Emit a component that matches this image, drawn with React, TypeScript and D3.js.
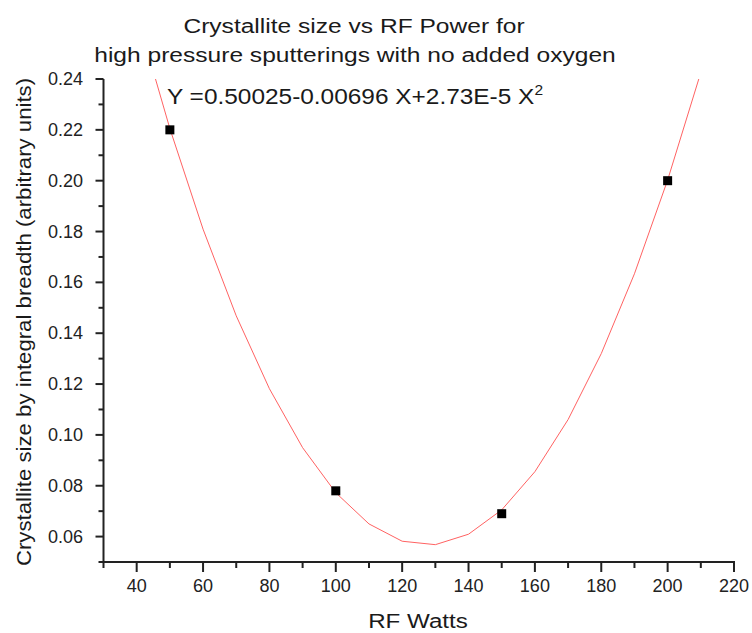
import * as d3 from "d3"
import type { ReactNode } from "react"

// measured points
const watts = [50, 100, 150, 200]
const sizes = [0.22, 0.078, 0.069, 0.2]

// quadratic fit shown on the chart: Y = a + bX + cX^2
const fitCoefs = [0.50025, -0.00696, 2.73e-5]
const fitX = [40, 50, 60, 70, 80, 90, 100, 110, 120, 130, 140, 150, 160, 170, 180, 190, 200, 210]

const xMajor = [40, 60, 80, 100, 120, 140, 160, 180, 200, 220]
const xMinor = [30, 50, 70, 90, 110, 130, 150, 170, 190, 210]
const yMajor = [0.06, 0.08, 0.1, 0.12, 0.14, 0.16, 0.18, 0.2, 0.22, 0.24]
const yMinor = [0.05, 0.07, 0.09, 0.11, 0.13, 0.15, 0.17, 0.19, 0.21, 0.23]

const W = 752
const H = 633
const left = 103.5
const right = 734
const top = 79
const bottom = 562
const font = "Arial, 'Liberation Sans', sans-serif"

// the source image is a bit wider than tall, so text is stretched sideways
function Stretched({
  x,
  y,
  sx = 1,
  rotate = 0,
  size,
  anchor = "start",
  children,
}: {
  x: number
  y: number
  sx?: number
  rotate?: number
  size: number
  anchor?: "start" | "middle" | "end"
  children: ReactNode
}) {
  return (
    <text
      transform={`translate(${x},${y}) rotate(${rotate}) scale(${sx},1)`}
      fontSize={size}
      textAnchor={anchor}
      fill="#1a1a1a"
    >
      {children}
    </text>
  )
}

export default function App() {
  const x = d3.scaleLinear().domain([30, 220]).range([left, right])
  const y = d3.scaleLinear().domain([0.05, 0.24]).range([bottom, top])

  const fit = (v: number) => fitCoefs[0] + fitCoefs[1] * v + fitCoefs[2] * v * v
  const line = d3
    .line<number>()
    .x((d) => x(d))
    .y((d) => y(fit(d)))

  return (
    <svg
      width={W}
      height={H}
      style={{ position: "absolute", left: 0, top: 0, background: "#fff" }}
      fontFamily={font}
    >
      <defs>
        <clipPath id="plot">
          <rect x={left} y={top} width={right - left} height={bottom - top} />
        </clipPath>
      </defs>

      <Stretched x={354} y={33} sx={1.17} size={21} anchor="middle">
        Crystallite size vs RF Power for
      </Stretched>
      <Stretched x={355} y={62} sx={1.17} size={21} anchor="middle">
        high pressure sputterings with no added oxygen
      </Stretched>

      <path
        d={line(fitX) ?? ""}
        fill="none"
        stroke="#ff6262"
        strokeWidth={1}
        clipPath="url(#plot)"
      />

      {watts.map((w, i) => (
        <rect
          key={w}
          x={x(w) - 4.5}
          y={y(sizes[i]) - 4.5}
          width={9}
          height={9}
          fill="#000"
        />
      ))}

      <Stretched x={167} y={104} sx={1.11} size={22}>
        Y =0.50025-0.00696 X+2.73E-5 X
        <tspan dy={-9} fontSize={14}>
          2
        </tspan>
      </Stretched>

      {/* axes */}
      <g stroke="#222" strokeWidth={2} fill="none">
        <line x1={left} x2={left} y1={top} y2={bottom + 1} />
        <line x1={left - 1} x2={right + 1} y1={bottom} y2={bottom} />
        {yMajor.map((t) => (
          <line key={t} x1={left - 8} x2={left} y1={y(t)} y2={y(t)} />
        ))}
        {yMinor.map((t) => (
          <line key={t} x1={left - 5} x2={left} y1={y(t)} y2={y(t)} />
        ))}
        {xMajor.map((t) => (
          <line key={t} x1={x(t)} x2={x(t)} y1={bottom} y2={bottom + 10} />
        ))}
        {xMinor.map((t) => (
          <line key={t} x1={x(t)} x2={x(t)} y1={bottom} y2={bottom + 6} />
        ))}
      </g>

      <g fontSize={18} fill="#222">
        {yMajor.map((t) => (
          <text key={t} x={83} y={y(t) + 6} textAnchor="end">
            {d3.format(".2f")(t)}
          </text>
        ))}
        {xMajor.map((t) => (
          <text key={t} x={x(t)} y={592} textAnchor="middle">
            {t}
          </text>
        ))}
      </g>

      <Stretched x={418} y={628} sx={1.15} size={21} anchor="middle">
        RF Watts
      </Stretched>
      <Stretched x={31} y={322} sx={1.11} rotate={-90} size={20} anchor="middle">
        Crystallite size by integral breadth (arbitrary units)
      </Stretched>
    </svg>
  )
}
